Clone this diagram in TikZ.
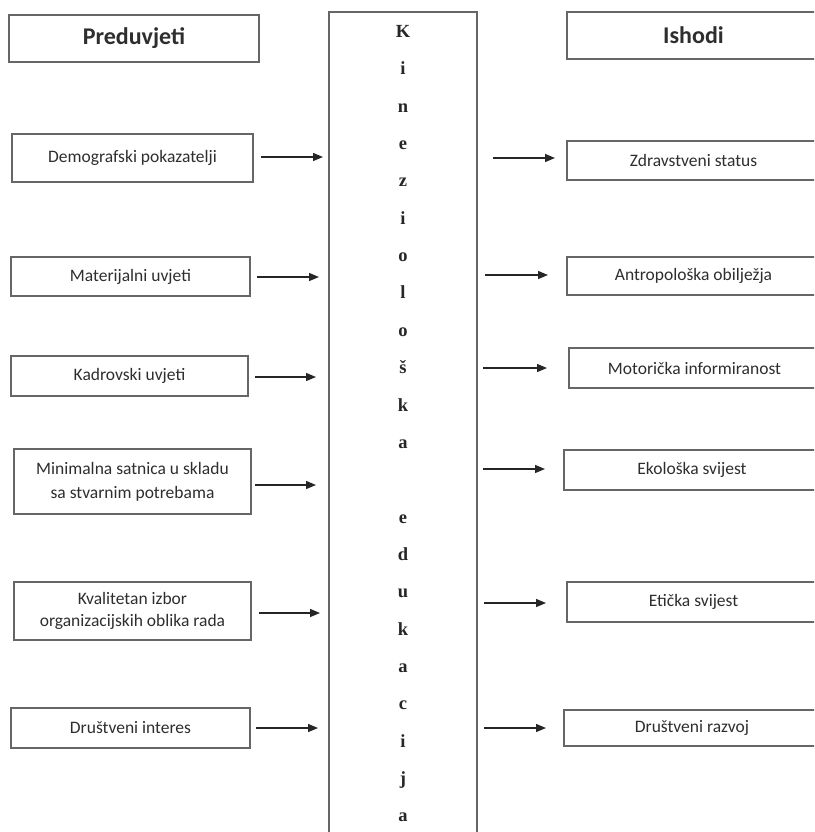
\documentclass[tikz,border=0pt]{standalone}
\usepackage{fontspec}
\setmainfont{Carlito}
\newfontfamily\serifb{Liberation Serif}
\usetikzlibrary{arrows.meta}
\begin{document}
\begin{tikzpicture}[x=1pt,y=-1pt,
 box/.style={draw=black!60, line width=1.4pt, inner sep=2pt, align=center, text=black!82,
   font=\fontsize{17.5}{24}\selectfont},
 titlebox/.style={box, font=\fontsize{24}{28}\selectfont\bfseries},
 arr/.style={draw=black!85, line width=1.3pt, -{Triangle[length=10pt,width=8pt]}},
 letter/.style={font=\serifb\bfseries\fontsize{18.5}{20}\selectfont, text=black!85, anchor=base, inner sep=0pt}]
\path[use as bounding box, fill=white] (0,0) rectangle (814,832);
\clip (0,0) rectangle (814,832);

% central column
\node[draw=black!60, line width=1.4pt, minimum width=148pt, minimum height=850pt, inner sep=0pt] (C) at (403,437) {};
\foreach \l [count=\i from 0] in {K,i,n,e,z,i,o,l,o,š,k,a,{},e,d,u,k,a,c,i,j,a}
  \node[letter] (k\i) at (403,{37.5+37.35*\i}) {\l};

% left side
\node[titlebox, minimum width=250pt, minimum height=47pt] (L0) at (134,38.5) {Preduvjeti};
\node[box, minimum width=241pt, minimum height=48pt] (L1) at (132.5,158) {Demografski pokazatelji};
\node[box, minimum width=239pt, minimum height=39pt] (L2) at (130.5,276.5) {Materijalni uvjeti};
\node[box, minimum width=237pt, minimum height=40pt] (L3) at (129.5,376) {Kadrovski uvjeti};
\node[box, minimum width=237pt, minimum height=65pt] (L4) at (132.5,481.5) {Minimalna satnica u skladu\\sa stvarnim potrebama};
\node[box, minimum width=237pt, minimum height=58pt, font=\fontsize{17.5}{22}\selectfont] (L5) at (132.5,611) {Kvalitetan izbor\\organizacijskih oblika rada};
\node[box, minimum width=239pt, minimum height=40pt] (L6) at (130.5,728) {Društveni interes};

% right side
\node[titlebox, minimum width=253pt, minimum height=47pt] (R0) at (693.5,35.5) {Ishodi};
\node[box, minimum width=253pt, minimum height=39pt] (R1) at (693.5,160.5) {Zdravstveni status};
\node[box, minimum width=253pt, minimum height=38pt] (R2) at (693.5,276) {Antropološka obilježja};
\node[box, minimum width=251pt, minimum height=40pt] (R3) at (694.5,368) {Motorička informiranost};
\node[box, minimum width=256pt, minimum height=40pt] (R4) at (692,470) {Ekološka svijest};
\node[box, minimum width=253pt, minimum height=40pt] (R5) at (693.5,602) {Etička svijest};
\node[box, minimum width=256pt, minimum height=36pt] (R6) at (692,728) {Društveni razvoj};

% arrow end points
\coordinate (la1) at (261,157); \coordinate (lb1) at (323,157);
\coordinate (la2) at (257,277); \coordinate (lb2) at (319,277);
\coordinate (la3) at (255,377); \coordinate (lb3) at (316,377);
\coordinate (la4) at (255,485); \coordinate (lb4) at (316,485);
\coordinate (la5) at (259,613); \coordinate (lb5) at (320,613);
\coordinate (la6) at (256,728); \coordinate (lb6) at (318,728);
\coordinate (ra1) at (493,158); \coordinate (rb1) at (555,158);
\coordinate (ra2) at (485,275); \coordinate (rb2) at (548,275);
\coordinate (ra3) at (483,368); \coordinate (rb3) at (547,368);
\coordinate (ra4) at (483,469); \coordinate (rb4) at (545,469);
\coordinate (ra5) at (484,603); \coordinate (rb5) at (546,603);
\coordinate (ra6) at (484,728); \coordinate (rb6) at (546,728);
\foreach \i in {1,...,6}{
  \draw[arr] (la\i) -- (lb\i);
  \draw[arr] (ra\i) -- (rb\i);
}
\end{tikzpicture}
\end{document}
